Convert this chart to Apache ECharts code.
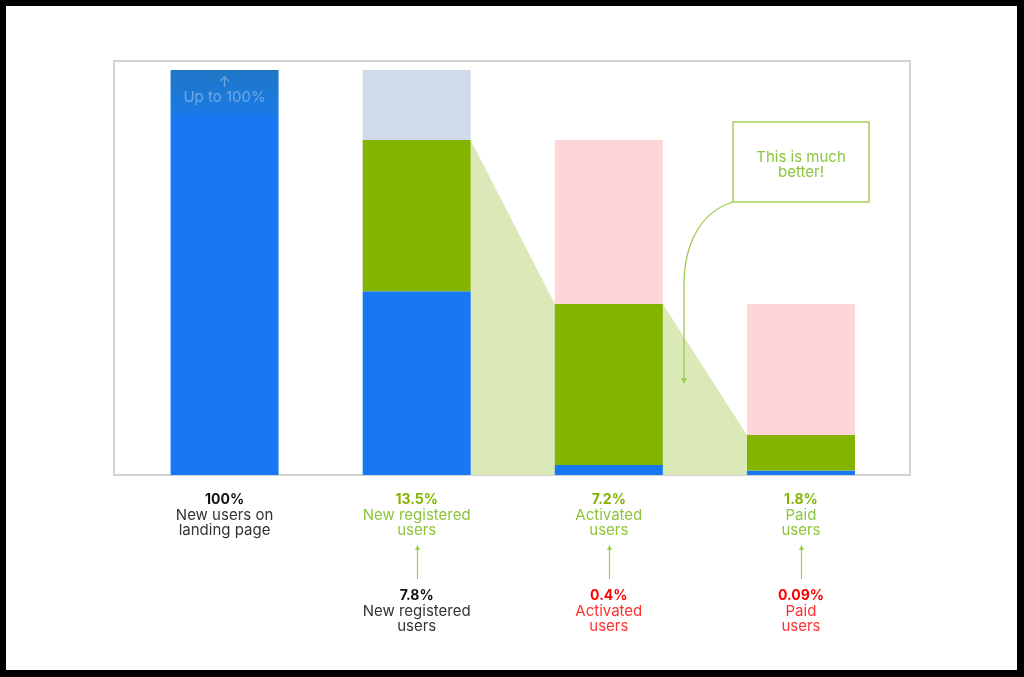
<!DOCTYPE html>
<html><head><meta charset="utf-8">
<script src="https://cdn.jsdelivr.net/npm/echarts@6/dist/echarts.min.js"></script>
<style>html,body{margin:0;padding:0;background:#000;}#c{width:1024px;height:677px;}</style>
</head><body><div id="c"></div>
<script>
const categories = ['Landing', 'Registered', 'Activated', 'Paid'];
const topPct = ['100%', '13.5%', '7.2%', '1.8%'];
const topText = [['New users on', 'landing page'], ['New registered', 'users'], ['Activated', 'users'], ['Paid', 'users']];
const topColor = ['black', 'green', 'green', 'green'];
const lowPct = ['', '7.8%', '0.4%', '0.09%'];
const lowText = [[], ['New registered', 'users'], ['Activated', 'users'], ['Paid', 'users']];
const lowColor = ['', 'black', 'red', 'red'];

// segment heights (chart units, 100 = full bar)
const blueVals = [88.9, 45.4, 2.5, 1.1];
const upToVals = [11.1, 0, 0, 0];
const greenVals = [0, 37.3, 39.7, 8.8];
const potentialVals = [0, 17.3, 40.5, 32.3];
const potentialColors = ['#cfdbe8', '#cfdbe8', '#ffd6d8', '#ffd6d8'];

const BAR_W = 108;
const chart = echarts.init(document.getElementById('c'));

function labelFor(v, i) {
  let s = '{' + topColor[i] + 'B|' + topPct[i] + '}\n' + topText[i].map(t => '{' + topColor[i] + '|' + t + '}').join('\n');
  if (lowPct[i]) {
    s += '\n{sp| }\n{' + lowColor[i] + 'B|' + lowPct[i] + '}\n' + lowText[i].map(t => '{' + lowColor[i] + '|' + t + '}').join('\n');
  }
  return s;
}
const FF = 'Inter, "Open Sans", sans-serif';
const rich = {
  blackB: {fontWeight: 'bold', fontSize: 14, color: '#111', lineHeight: 16, fontFamily: FF},
  black: {fontSize: 15, color: '#333', lineHeight: 15, fontFamily: FF},
  greenB: {fontWeight: 'bold', fontSize: 14, color: '#82b400', lineHeight: 16, fontFamily: FF},
  green: {fontSize: 15, color: '#8cc43c', lineHeight: 15, fontFamily: FF},
  redB: {fontWeight: 'bold', fontSize: 14, color: '#ff0000', lineHeight: 16, fontFamily: FF},
  red: {fontSize: 15, color: '#ff3030', lineHeight: 15, fontFamily: FF},
  sp: {fontSize: 10, lineHeight: 50}
};

chart.setOption({
  backgroundColor: '#000',
  animation: false,
  grid: {left: 128.5, right: 127, top: 70, bottom: 202},
  xAxis: {
    type: 'category', data: categories,
    axisLine: {show: false}, axisTick: {show: false},
    axisLabel: {margin: 17, formatter: labelFor, rich: rich, align: 'center', verticalAlign: 'top', lineHeight: 15}
  },
  yAxis: {type: 'value', min: 0, max: 100, show: false},
  graphic: [
    {type: 'rect', z: -10, shape: {x: 6, y: 6, width: 1011, height: 664}, style: {fill: '#fff'}},
    {type: 'rect', z: -5, shape: {x: 114, y: 61, width: 796, height: 414}, style: {fill: 'none', stroke: '#d3d3d3', lineWidth: 2}}
  ],
  series: [
    {
      type: 'custom', z: 1,
      data: [0],
      renderItem: function (params, api) {
        const t2 = blueVals[1] + greenVals[1];
        const t3 = blueVals[2] + greenVals[2];
        const t4 = blueVals[3] + greenVals[3];
        const h = BAR_W / 2;
        const p2 = api.coord([1, t2]), p3 = api.coord([2, t3]), p4 = api.coord([3, t4]);
        const b2 = api.coord([1, 0]), b4 = api.coord([3, 0]);
        return {
          type: 'polygon',
          shape: {points: [[p2[0] + h, p2[1]], [p3[0] - h, p3[1]], [p3[0] + h, p3[1]], [p4[0] - h, p4[1]], [b4[0] - h, b4[1]], [b2[0] + h, b2[1]]]},
          style: {fill: '#dbe8b7'}
        };
      }
    },
    {type: 'bar', stack: 's', barWidth: BAR_W, z: 2, data: blueVals, itemStyle: {color: '#1877f2'}},
    {type: 'bar', stack: 's', barWidth: BAR_W, z: 2, data: upToVals.map((v, i) => ({value: v})),
      itemStyle: {color: new echarts.graphic.LinearGradient(0, 0, 0, 1, [{offset: 0, color: '#1f77c6'}, {offset: 1, color: '#1b7ae6'}])},
      label: {show: true, position: 'inside', formatter: p => p.value > 0 ? '↑\nUp to 100%' : '', color: 'rgba(255,255,255,0.35)', fontSize: 15, lineHeight: 15, fontFamily: FF, offset: [0, -2]}
    },
    {type: 'bar', stack: 's', barWidth: BAR_W, z: 2, data: greenVals, itemStyle: {color: '#82b400'}},
    {type: 'bar', stack: 's', barWidth: BAR_W, z: 2, data: potentialVals.map((v, i) => ({value: v, itemStyle: {color: potentialColors[i]}}))}
  ]
});

// annotations: callout and arrows
const g = [];
const green = '#9cca52';
g.push({type: 'rect', z: 10, shape: {x: 733, y: 122, width: 136, height: 80}, style: {fill: '#fff', stroke: '#a8cd5c', lineWidth: 1.5}});
g.push({type: 'text', z: 11, x: 801, y: 165, style: {text: 'This is much\nbetter!', fill: '#8cc43c', font: '15px Inter, "Open Sans", sans-serif', align: 'center', verticalAlign: 'middle', lineHeight: 15}});
g.push({type: 'bezierCurve', z: 10, shape: {x1: 733, y1: 202, cpx1: 700, cpy1: 212, cpx2: 684, cpy2: 245, x2: 684, y2: 285}, style: {stroke: green, lineWidth: 1.3, fill: 'none'}});
g.push({type: 'line', z: 10, shape: {x1: 684, y1: 285, x2: 684, y2: 379}, style: {stroke: green, lineWidth: 1.3}});
g.push({type: 'polygon', z: 10, shape: {points: [[681, 378], [687, 378], [684, 384]]}, style: {fill: green}});
for (let i = 1; i < categories.length; i++) {
  const x = Math.round(chart.convertToPixel({xAxisIndex: 0}, categories[i])) + 0.5;
  g.push({type: 'line', z: 10, shape: {x1: x, y1: 579, x2: x, y2: 548}, style: {stroke: green, lineWidth: 1.2}});
  g.push({type: 'polygon', z: 10, shape: {points: [[x - 2.5, 550], [x + 2.5, 550], [x, 545]]}, style: {fill: green}});
}
const opt = chart.getOption();
chart.setOption({graphic: opt.graphic[0].elements.concat(g)}, {replaceMerge: []});
</script></body></html>
